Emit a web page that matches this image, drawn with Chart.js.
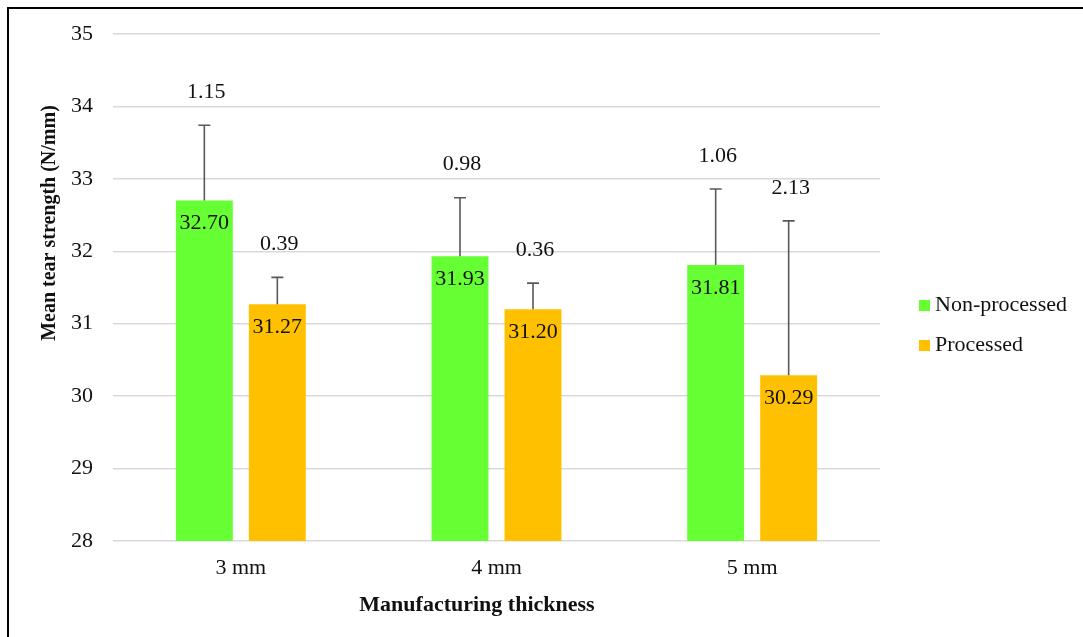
<!DOCTYPE html>
<html>
<head>
<meta charset="utf-8">
<script src="https://cdn.jsdelivr.net/npm/chart.js@4.4.0/dist/chart.umd.min.js"></script>
<style>
  body { margin: 0; background: #fff; }
  canvas { display: block; }
</style>
</head>
<body>
<canvas id="myChart" width="1083" height="637"></canvas>
<script>
// values
const categories = ['3 mm', '4 mm', '5 mm'];
const nonProcessed = [32.70, 31.93, 31.81];
const processed = [31.27, 31.20, 30.29];
// SD labels printed above the error bars
const nonProcessedSD = [1.15, 0.98, 1.06];
const processedSD = [0.39, 0.36, 2.13];
// length of the drawn (upper) error bars as they appear
const nonProcessedErr = [1.04, 0.81, 1.05];
const processedErr = [0.37, 0.36, 2.13];
const yTicks = [28, 29, 30, 31, 32, 33, 34, 35];

const FONT = "'Liberation Serif', 'Times New Roman', serif";
const GREEN = '#66FF33';
const ORANGE = '#FFC000';

const errorBarPlugin = {
  id: 'errorBars',
  afterDatasetsDraw(chart) {
    const { ctx } = chart;
    const y = chart.scales.y;
    chart.data.datasets.forEach((ds, i) => {
      const meta = chart.getDatasetMeta(i);
      meta.data.forEach((bar, j) => {
        const top = y.getPixelForValue(ds.data[j] + ds.err[j]);
        ctx.save();
        ctx.strokeStyle = '#595959';
        ctx.lineWidth = 1.6;
        ctx.beginPath();
        ctx.moveTo(bar.x, bar.y);
        ctx.lineTo(bar.x, top);
        ctx.moveTo(bar.x - 6, top);
        ctx.lineTo(bar.x + 6, top);
        ctx.stroke();

        ctx.fillStyle = '#111';
        ctx.font = '22px ' + FONT;
        ctx.textAlign = 'center';
        ctx.textBaseline = 'middle';
        // value inside bar
        ctx.fillText(ds.data[j].toFixed(2), bar.x, bar.y + 23);
        // sd label above error bar
        ctx.fillText(ds.sd[j].toFixed(2), bar.x + 2, top - 33);
        ctx.restore();
      });
    });
  },
  afterDraw(chart) {
    const { ctx } = chart;
    ctx.save();
    // frame (top and left edges)
    ctx.fillStyle = '#000';
    ctx.fillRect(7, 7, 1076, 2);
    ctx.fillRect(7, 7, 2, 630);

    // axis titles
    ctx.fillStyle = '#111';
    ctx.textAlign = 'center';
    ctx.textBaseline = 'middle';
    ctx.font = 'bold 22px ' + FONT;
    ctx.fillText('Manufacturing thickness', 477, 605);
    ctx.translate(50, 223);
    ctx.rotate(-Math.PI / 2);
    ctx.font = 'bold 20px ' + FONT;
    ctx.fillText('Mean tear strength (N/mm)', 0, 0);
    ctx.restore();

    // legend
    ctx.save();
    ctx.font = '22px ' + FONT;
    ctx.textBaseline = 'middle';
    ctx.textAlign = 'left';
    chart.data.datasets.forEach((ds, i) => {
      const ly = 305 + i * 40;
      ctx.fillStyle = ds.backgroundColor;
      ctx.fillRect(919, ly - 5, 11, 11);
      ctx.fillStyle = '#111';
      ctx.fillText(ds.label, 935, ly);
    });
    ctx.restore();
  }
};

new Chart(document.getElementById('myChart'), {
  type: 'bar',
  data: {
    labels: categories,
    datasets: [
      {
        label: 'Non-processed',
        data: nonProcessed,
        sd: nonProcessedSD,
        err: nonProcessedErr,
        backgroundColor: GREEN,
        categoryPercentage: 0.571,
        barPercentage: 0.78
      },
      {
        label: 'Processed',
        data: processed,
        sd: processedSD,
        err: processedErr,
        backgroundColor: ORANGE,
        categoryPercentage: 0.571,
        barPercentage: 0.78
      }
    ]
  },
  options: {
    responsive: false,
    animation: false,
    devicePixelRatio: 1,
    layout: { padding: { left: 0, top: 34, right: 203, bottom: 0 } },
    plugins: {
      legend: { display: false },
      tooltip: { enabled: false }
    },
    scales: {
      x: {
        grid: { display: false, drawTicks: false },
        border: { display: false },
        ticks: { font: { family: FONT, size: 22 }, color: '#111', padding: 14 },
        afterFit: (scale) => { scale.height = 96; }
      },
      y: {
        min: 28,
        max: 35,
        afterBuildTicks: (scale) => { scale.ticks = yTicks.map(v => ({ value: v })); },
        grid: { color: '#d9d9d9', lineWidth: 1.5, drawTicks: false },
        border: { display: false },
        ticks: { font: { family: FONT, size: 22 }, color: '#111', padding: 20 },
        afterFit: (scale) => { scale.width = 113; }
      }
    }
  },
  plugins: [errorBarPlugin]
});
</script>
</body>
</html>
